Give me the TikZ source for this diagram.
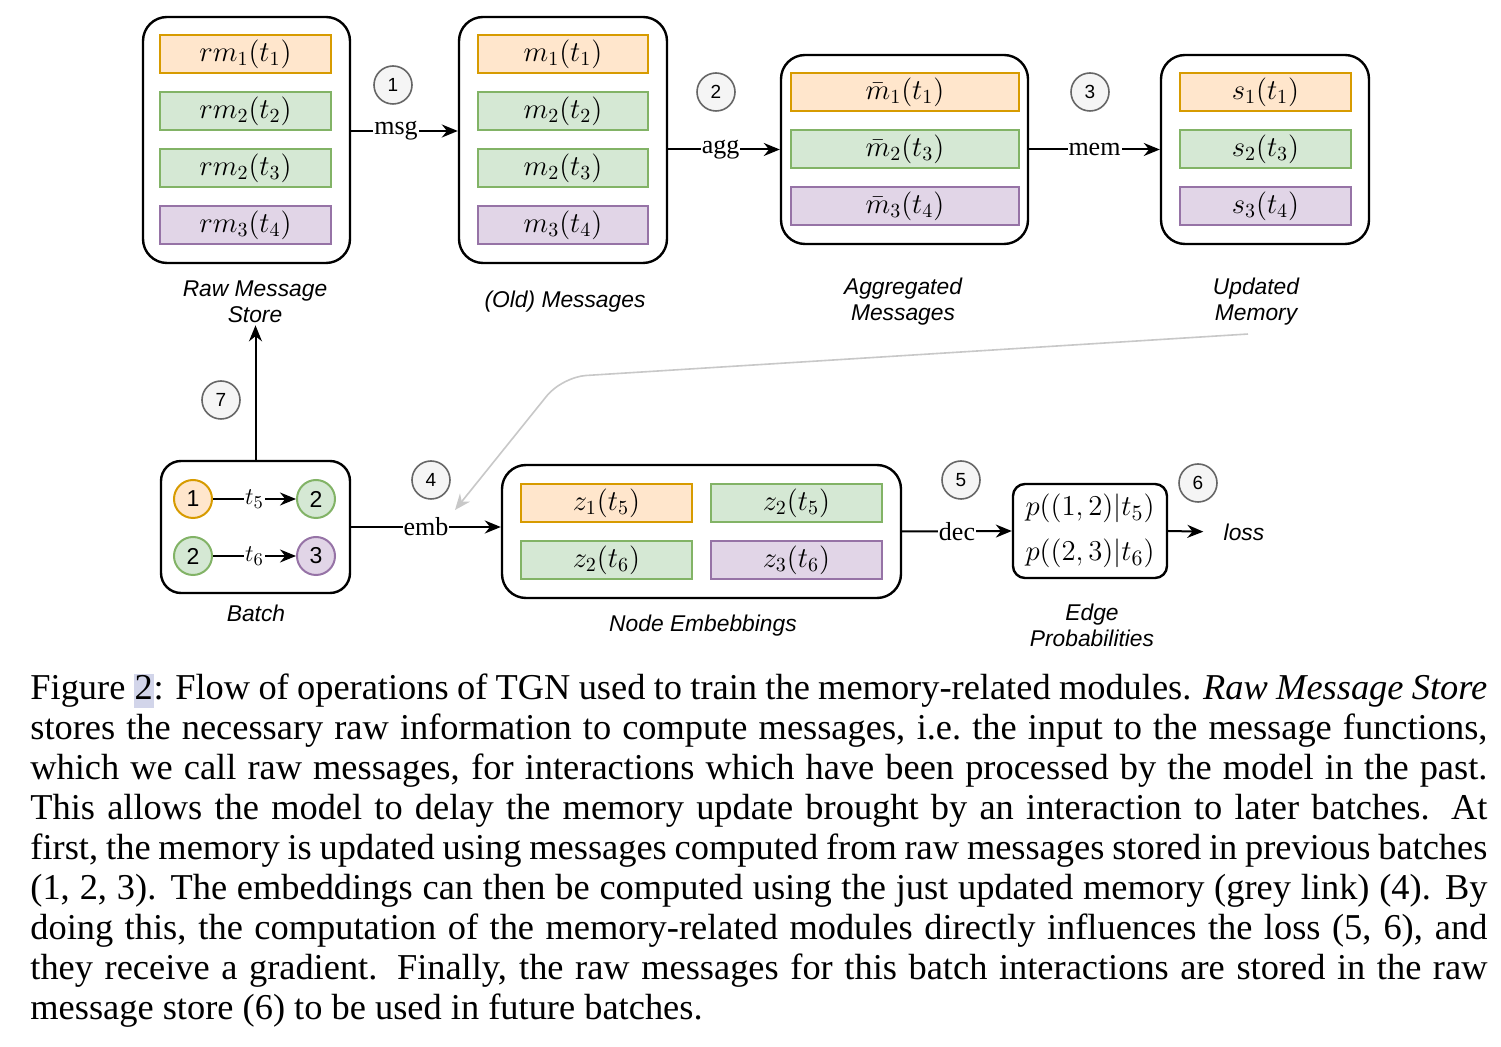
\documentclass[tikz,border=0pt]{standalone}
\usepackage{fontspec}
\setmainfont{Liberation Serif}
\newfontfamily\diagfont{Liberation Sans}
\usetikzlibrary{arrows.meta}

\definecolor{orfill}{HTML}{FFE6CC}
\definecolor{ordraw}{HTML}{D79B00}
\definecolor{grfill}{HTML}{D5E8D4}
\definecolor{grdraw}{HTML}{82B366}
\definecolor{pufill}{HTML}{E1D5E7}
\definecolor{pudraw}{HTML}{9673A6}
\definecolor{stagefill}{HTML}{F5F5F5}
\definecolor{stagedraw}{HTML}{666666}
\definecolor{linkgrey}{HTML}{C8C8C8}
\definecolor{selblue}{HTML}{D2D5EA}

\begin{document}
\begin{tikzpicture}[x=0.5pt,y=-0.5pt,store/.style={draw,rounded corners=12pt,line width=1.2pt,inner sep=0pt},bar/.style={rectangle,line width=1pt,minimum height=19pt,inner sep=0pt,font=\fontsize{14.5}{16}\selectfont},orbar/.style={bar,draw=ordraw,fill=orfill},grbar/.style={bar,draw=grdraw,fill=grfill},pubar/.style={bar,draw=pudraw,fill=pufill},stage/.style={circle,draw=stagedraw,fill=stagefill,line width=0.8pt,minimum size=19pt,inner sep=0pt,font=\diagfont\fontsize{9.5}{11}\selectfont},vertex/.style={circle,line width=1pt,minimum size=19pt,inner sep=0pt,font=\diagfont\fontsize{11.5}{13}\selectfont},boxlabel/.style={font=\diagfont\itshape\fontsize{11.4}{13}\selectfont,align=center,inner sep=1pt},flow/.style={line width=1pt,-{Stealth[length=8pt,width=6.5pt]}},op/.style={fill=white,inner sep=0.5pt,font=\fontsize{13}{15}\selectfont}]
\useasboundingbox[fill=white] (0,0) rectangle (1501,1047);
% raw message store
\node[store,minimum width=103.5pt,minimum height=123pt] (raw) at (246.5,140) {};
\node[orbar,minimum width=85.5pt] (raw1) at (245.5,54) {$rm_1(t_1)$};
\node[grbar,minimum width=85.5pt] (raw2) at (245.5,111) {$rm_2(t_2)$};
\node[grbar,minimum width=85.5pt] (raw3) at (245.5,168) {$rm_2(t_3)$};
\node[pubar,minimum width=85.5pt] (raw4) at (245.5,225) {$rm_3(t_4)$};
\node[boxlabel] (rawlbl) at (255,302) {Raw Message\\ Store};
% old messages
\node[store,minimum width=104pt,minimum height=123pt] (old) at (563,140) {};
\node[orbar,minimum width=85pt] (old1) at (563,54) {$m_1(t_1)$};
\node[grbar,minimum width=85pt] (old2) at (563,111) {$m_2(t_2)$};
\node[grbar,minimum width=85pt] (old3) at (563,168) {$m_2(t_3)$};
\node[pubar,minimum width=85pt] (old4) at (563,225) {$m_3(t_4)$};
\node[boxlabel] (oldlbl) at (565,302) {(Old) Messages};
% aggregated messages
\node[store,minimum width=123.5pt,minimum height=94.5pt] (agg) at (904.5,149.5) {};
\node[orbar,minimum width=114pt] (agg1) at (905,92) {$\bar{m}_1(t_1)$};
\node[grbar,minimum width=114pt] (agg2) at (905,149) {$\bar{m}_2(t_3)$};
\node[pubar,minimum width=114pt] (agg3) at (905,206) {$\bar{m}_3(t_4)$};
\node[boxlabel] (agglbl) at (903,302) {Aggregated\\ Messages};
% updated memory
\node[store,minimum width=104pt,minimum height=94.5pt] (mem) at (1265,149.5) {};
\node[orbar,minimum width=85.5pt] (mem1) at (1265.5,92) {$s_1(t_1)$};
\node[grbar,minimum width=85.5pt] (mem2) at (1265.5,149) {$s_2(t_3)$};
\node[pubar,minimum width=85.5pt] (mem3) at (1265.5,206) {$s_3(t_4)$};
\node[boxlabel] (memlbl) at (1256,302) {Updated\\ Memory};
% batch
\node[store,rounded corners=10pt,minimum width=94.5pt,minimum height=66pt] (batch) at (255.5,527) {};
\node[vertex,draw=ordraw,fill=orfill] (v1) at (193,499) {1};
\node[vertex,draw=grdraw,fill=grfill] (v2) at (316,499) {2};
\node[vertex,draw=grdraw,fill=grfill] (v2b) at (193,556) {2};
\node[vertex,draw=pudraw,fill=pufill] (v3) at (316,556) {3};
\draw[flow] (v1) -- node[op] {$t_5$} (v2);
\draw[flow] (v2b) -- node[op] {$t_6$} (v3);
\node[boxlabel] (batchlbl) at (256,613) {Batch};
% node embeddings
\node[store,minimum width=199.5pt,minimum height=66.5pt] (emb) at (701.5,531.5) {};
\node[orbar,minimum width=85.5pt] (emb1) at (606.5,503) {$z_1(t_5)$};
\node[grbar,minimum width=85.5pt] (emb2) at (796.5,503) {$z_2(t_5)$};
\node[grbar,minimum width=85.5pt] (emb3) at (606.5,560) {$z_2(t_6)$};
\node[pubar,minimum width=85.5pt] (emb4) at (796.5,560) {$z_3(t_6)$};
\node[boxlabel] (emblbl) at (703,626) {Node Embebbings};
% edge probabilities
\node[store,rounded corners=6pt,minimum width=77pt,minimum height=47pt,align=center,font=\fontsize{15.2}{22.5}\selectfont] (edge) at (1090,531) {$p((1,2)|t_5)$\\ $p((2,3)|t_6)$};
\node[boxlabel] (edgelbl) at (1092,625) {Edge\\ Probabilities};
\node[boxlabel] (loss) at (1244,532) {loss};
% stages
\node[stage] (s1) at (393,85) {1};
\node[stage] (s2) at (716,92) {2};
\node[stage] (s3) at (1090,92) {3};
\node[stage] (s4) at (431,480) {4};
\node[stage] (s5) at (961,480) {5};
\node[stage] (s6) at (1198,483) {6};
\node[stage] (s7) at (221,400) {7};
% flow
\draw[flow] ([yshift=4.5pt]raw.east) -- node[op,pos=0.42] {$\mathrm{msg}$} ([yshift=4.5pt]old.west);
\draw[flow] (old.east |- agg.west) -- node[op,pos=0.47] {$\mathrm{agg}$} (agg.west);
\draw[flow] (agg.east) -- node[op,pos=0.5] {$\mathrm{mem}$} (mem.west);
\draw[flow] (batch.north) -- (batch.north |- rawlbl.south);
\draw[flow] (batch.east) -- node[op,pos=0.5] {$\mathrm{emb}$} (batch.east -| emb.west);
\draw[flow] (emb.east) -- node[op,pos=0.5] {$\mathrm{dec}$} (edge.west);
\draw[flow,shorten >=9pt] (edge.east) -- (loss.west);
% grey link
\coordinate (linkbend) at (562,377);
\coordinate (linkend) at (455,510);
\draw[linkgrey,line width=0.8pt,rounded corners=12pt,-{Stealth[length=8pt,width=6.5pt]}] ([xshift=-4pt,yshift=-3pt]memlbl.south) -- (linkbend) -- (linkend);
% caption
\node[anchor=north west,text width=728.5pt,inner sep=0pt,align=justify,font=\fontsize{18.2}{20}\selectfont] (capt) at (30,673) {Figure \setlength\fboxsep{0.4pt}\colorbox{selblue}{\vphantom{g}2}: Flow of operations of TGN used to train the memory-related modules. \textit{Raw Message Store}\linebreak
stores the necessary raw information to compute messages, i.e.\ the input to the message functions,\linebreak
which we call raw messages, for interactions which have been processed by the model in the past.\linebreak
This allows the model to delay the memory update brought by an interaction to later batches. At\linebreak
first, the memory is updated using messages computed from raw messages stored in previous batches\linebreak
(1, 2, 3). The embeddings can then be computed using the just updated memory (grey link) (4). By\linebreak
doing this, the computation of the memory-related modules directly influences the loss (5, 6), and\linebreak
they receive a gradient. Finally, the raw messages for this batch interactions are stored in the raw\linebreak
message store (6) to be used in future batches.};
\end{tikzpicture}
\end{document}
